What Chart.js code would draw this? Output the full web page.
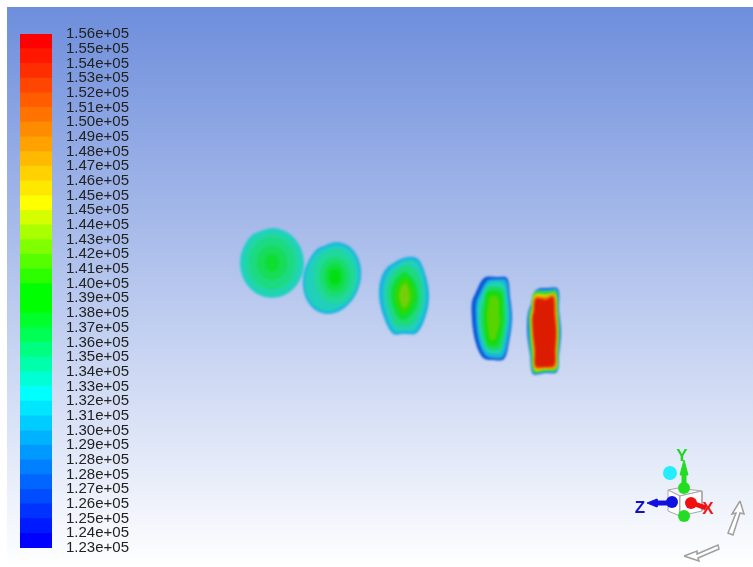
<!DOCTYPE html>
<html>
<head>
<meta charset="utf-8">
<style>
  html, body { margin: 0; padding: 0; background: #fff; }
  #stage { position: relative; width: 753px; height: 567px; overflow: hidden; filter: blur(0.6px); }
  #view, #planes { position: absolute; left: 0; top: 0; }
  #planes { filter: blur(0.8px); }
  #legend { position: absolute; left: 20px; top: 11px; }
</style>
<script src="https://cdn.jsdelivr.net/npm/chart.js@4/dist/chart.umd.js"></script>
</head>
<body>
<div id="stage">
  <canvas id="view" width="753" height="567"></canvas>
  <canvas id="planes" width="753" height="567"></canvas>
  <canvas id="legend" width="122" height="560"></canvas>
</div>
<script>
// colour bar labels, top to bottom
const levelLabels = ['1.56e+05', '1.55e+05', '1.54e+05', '1.53e+05', '1.52e+05', '1.51e+05', '1.50e+05', '1.49e+05', '1.48e+05',
  '1.47e+05', '1.46e+05', '1.45e+05', '1.45e+05', '1.44e+05', '1.43e+05', '1.42e+05', '1.41e+05', '1.40e+05', '1.39e+05',
  '1.38e+05', '1.37e+05', '1.36e+05', '1.35e+05', '1.34e+05', '1.33e+05', '1.32e+05', '1.31e+05', '1.30e+05', '1.29e+05',
  '1.28e+05', '1.28e+05', '1.27e+05', '1.26e+05', '1.25e+05', '1.24e+05', '1.23e+05'];

// colour bar cells, top to bottom
const cellColors = ['#ff0000', '#ff1700', '#ff2e00', '#ff4600', '#ff5d00', '#ff7400', '#ff8b00', '#ffa200', '#ffb900', '#ffd100',
  '#ffe800', '#ffff00', '#d5ff00', '#aaff00', '#80ff00', '#55ff00', '#2bff00', '#00ff00', '#00ff00', '#00ff2b', '#00ff55',
  '#00ff80', '#00ffaa', '#00ffd5', '#00ffff', '#00e6ff', '#00cdff', '#00b3ff', '#009aff', '#0080ff', '#0066ff', '#004dff',
  '#0033ff', '#001aff', '#0000ff'];

// contour outlines of each plane, outermost first
const disc1 = [
  [[272,228],[288,232.7],[299.7,245.5],[304,263],[299.7,280.5],[288,293.3],[272,298],[256,293.3],[244.3,280.5],[240,263],[244.3,245.5],[256,232.7]],
  [[272,231],[286.5,235.3],[297.1,247],[301,263],[297.1,279],[286.5,290.7],[272,295],[257.5,290.7],[246.9,279],[243,263],[246.9,247],[257.5,235.3]],
  [[272,237],[283.5,240.5],[291.9,250],[295,263],[291.9,276],[283.5,285.5],[272,289],[260.5,285.5],[252.1,276],[249,263],[252.1,250],[260.5,240.5]],
  [[272,246],[279.5,248.3],[285,254.5],[287,263],[285,271.5],[279.5,277.7],[272,280],[264.5,277.7],[259,271.5],[257,263],[259,254.5],[264.5,248.3]],
  [[272,254],[276,256],[278,259],[279,263],[278,267],[276,270],[272,272],[268,270],[266,267],[265,263],[266,259],[268,256]]
];
const disc2 = [
  [[336,242],[350,246.8],[359.1,260],[361,278],[355.1,296],[343,309.2],[328,314],[314,309.2],[304.9,296],[303,278],[308.9,260],[321,246.8]],
  [[335.6,245.2],[348.4,249.5],[356.7,261.6],[358.4,278],[353.4,294.4],[342,306],[328.4,311],[315.6,306.5],[306.8,294.4],[305.6,278],[310.6,261.6],[323,249.5]],
  [[335,250],[345.5,253.6],[353.2,263.5],[356,277],[353.2,290.5],[345.5,300.4],[335,304],[324.5,300.4],[316.8,290.5],[314,277],[316.8,263.5],[324.5,253.6]],
  [[335,257],[342.5,259.7],[348,267],[350,277],[348,287],[342.5,294.3],[335,297],[327.5,294.3],[322,287],[320,277],[322,267],[327.5,259.7]],
  [[335,263],[340,264.9],[343.7,270],[345,277],[343.7,284],[340,289.1],[335,291],[330,289.1],[326.3,284],[325,277],[326.3,270],[330,264.9]],
  [[335,269],[338,270.1],[340.2,273],[341,277],[340.2,281],[338,283.9],[335,285],[332,283.9],[329.8,281],[329,277],[329.8,273],[332,270.1]]
];
const disc3 = [
  [[403,258],[417,258],[424,270],[429,292],[427,312],[417,333],[403,334],[393,334],[384,318],[379,297],[381,278],[390,265]],
  [[404,261],[415,261],[422,272],[426,292],[424,311],[415,330],[403,331],[395,331],[387,316],[383,297],[385,280],[393,267]],
  [[404,266],[412,267],[419,278],[422,294],[420,309],[412,324],[403,326],[397,325],[391,313],[387,297],[389,282],[396,271]],
  [[404,272],[409,275],[415,283],[418,295],[416,307],[409,317],[403,320],[398,317],[394,308],[391,296],[393,285],[399,276]],
  [[405,277],[409,280],[413,287],[414,296],[412,305],[407,312],[403,314],[400,311],[396,304],[395,296],[396,288],[401,281]],
  [[405,283],[407,285],[409,290],[410,296],[409,302],[406,307],[404,308],[402,306],[400,301],[399,296],[400,290],[402,286]]
];
const disc4 = [
  [[484,278],[497,277],[507,278],[510,297],[512,318],[509,342],[504,359],[492,360],[483,358],[476,344],[472,320],[474,296]],
  [[487,281],[497,279],[506,280],[509,298],[511,318],[508,341],[503,357],[492,358],[485,355],[479,342],[476,320],[478,297]],
  [[488,284],[497,282],[504,284],[507,300],[508,318],[505,339],[501,353],[492,354],[486,351],[481,339],[478,320],[480,299]],
  [[488,288],[497,287],[503,289],[505,303],[506,318],[504,336],[500,349],[491,350],[487,347],[483,336],[481,320],[483,302]],
  [[487,292],[496,291],[501,293],[503,306],[503,319],[501,333],[497,345],[490,346],[487,343],[485,333],[484,320],[485,305]],
  [[490,297],[496,296],[499,300],[499,311],[500,320],[498,330],[495,339],[491,340],[489,336],[488,328],[487,319],[488,308]]
];
const disc5 = [
  [[536,290],[548,288],[558,289],[559,310],[561,332],[559,355],[557,372],[545,373],[533,374],[530,355],[527,330],[530,307]],
  [[535,291.5],[548,290],[557,290],[558.5,311],[560,332],[558.5,354],[557,371],[545,372],[533.5,373],[530.5,354],[528.5,330],[530.5,308]],
  [[534,293],[547,292],[556,292],[558,312],[559,332],[558,353],[556.5,369.5],[545,371],[534,372],[531.5,353],[530,330],[531,309]],
  [[534.5,295],[547,294.5],[555,293.5],[557,313],[558,332],[557,352],[556,368],[545,369.5],[534.5,370],[533,352],[531,330],[532,310]],
  [[535,297],[546,297],[554,295],[556,314],[557,332],[556,351],[555,367],[545,368],[535,368],[534,351],[532,330],[533,311]],
  [[536,299],[546,300],[553,297],[554.5,315],[556,332],[555,350],[554,365],[545,367],[536,366],[535,350],[533,330],[534,312]]
];
const disc1Colors = ['#22cfc8', '#20d6a8', '#1cda80', '#16dc58', '#0ede30'];
const disc2Colors = ['#1fb8dc', '#20d0bc', '#20d89a', '#1adc6c', '#10de40', '#02de14'];
const disc3Colors = ['#1cb4e0', '#20d0b8', '#1eda78', '#10dc34', '#30d800', '#74cf08'];
const disc4Colors = ['#0a58d8', '#1ab0e0', '#20d4b0', '#18da60', '#18da10', '#58d400'];
const disc5Colors = ['#1560dc', '#20c8c8', '#38d818', '#e0d800', '#f07000', '#dc1c00'];

// orientation triad
const cubeLeft = [[668,490],[680,496],[680,516],[668,511],[668,490]];
const cubeRight = [[680,496],[702,491],[702,511],[680,516],[680,496]];
const cubeTop = [[668,490],[678,488],[702,491],[680,496],[668,490]];
const yShaft = [[684,490],[684,468]];
const yHead = [[684,460],[688,475],[680,475],[684,460]];
const zShaft = [[671,503],[655,503]];
const zHead = [[647,503],[657,499],[657,507],[647,503]];
const xShaft = [[692,503],[706,508]];
const greenBeads = [[684,488],[684,516]];
const blueBead = [[672,502]];
const redBead = [[691,503]];
const cyanBead = [[670,473]];
const arrowUp = [[740,501],[744,514],[740,513],[733,535],[728,533],[736,513],[732,514],[740,501]];
const arrowDown = [[684,556],[697,551],[697,554],[718,545],[719,549],[698,558],[699,561],[684,556]];
const triadLetters = ['Y', 'Z', 'X'];
const letterSpots = [[682,456], [640,508], [708,509]];
const letterColors = ['#22d422', '#1010d0', '#f01818'];

// Fluent window background
const viewBackground = {
  id: 'viewBackground',
  beforeDraw(chart) {
    const { ctx, scales } = chart;
    const top = scales.y.getPixelForValue(7);
    const bottom = scales.y.getPixelForValue(567);
    const left = scales.x.getPixelForValue(7);
    const right = scales.x.getPixelForValue(753);
    const grad = ctx.createLinearGradient(0, top, 0, bottom);
    grad.addColorStop(0, '#6e8edc');
    grad.addColorStop(1, '#ffffff');
    ctx.fillStyle = grad;
    ctx.fillRect(left, top, right - left, bottom - top);
  }
};

const triadText = {
  id: 'triadText',
  afterDatasetsDraw(chart) {
    const { ctx, scales } = chart;
    ctx.save();
    ctx.font = 'bold 17px "Liberation Sans"';
    ctx.textAlign = 'center';
    ctx.textBaseline = 'middle';
    triadLetters.forEach((letter, i) => {
      ctx.fillStyle = letterColors[i];
      ctx.fillText(letter, scales.x.getPixelForValue(letterSpots[i][0]), scales.y.getPixelForValue(letterSpots[i][1]));
    });
    ctx.restore();
  }
};

function shapeDataset(points, fillColor, lineColor, lineWidth, tension) {
  return {
    data: points.concat([points[0]]),
    showLine: true,
    fill: 'shape',
    backgroundColor: fillColor,
    borderColor: lineColor,
    borderWidth: lineWidth,
    tension,
    pointRadius: 0
  };
}

function lineDataset(points, color, width) {
  return { data: points, showLine: true, fill: false, borderColor: color, borderWidth: width, pointRadius: 0 };
}

function beadDataset(points, color, radius) {
  return { data: points, showLine: false, backgroundColor: color, borderColor: color, pointRadius: radius, pointBorderWidth: 0 };
}

// repeat the ends so the spline stays smooth where the outline closes
function discDatasets(bands, colors) {
  return bands.map((band, i) => {
    const wrapped = [band[band.length - 1], ...band, band[1]];
    const set = shapeDataset(wrapped, colors[i], colors[i], 0, 0.33);
    return set;
  });
}

const planeSets = [
  ...discDatasets(disc1, disc1Colors),
  ...discDatasets(disc2, disc2Colors),
  ...discDatasets(disc3, disc3Colors),
  ...discDatasets(disc4, disc4Colors),
  ...discDatasets(disc5, disc5Colors)
];

const triadSets = [
  shapeDataset(cubeTop, '#f4f4f4', '#a8a8a8', 1, 0),
  shapeDataset(cubeLeft, '#ffffff', '#a8a8a8', 1, 0),
  shapeDataset(cubeRight, '#ffffff', '#a8a8a8', 1, 0),
  beadDataset(greenBeads, '#22dd22', 6),
  lineDataset(yShaft, '#22dd22', 5),
  shapeDataset(yHead, '#22dd22', '#22dd22', 1, 0),
  lineDataset(zShaft, '#1010e0', 5),
  shapeDataset(zHead, '#1010e0', '#1010e0', 1, 0),
  beadDataset(blueBead, '#1010e0', 6),
  lineDataset(xShaft, '#f01010', 5),
  beadDataset(redBead, '#f01010', 6),
  beadDataset(cyanBead, '#22eeff', 7),
  shapeDataset(arrowUp, '#ffffff', '#a0a0a0', 1.5, 0),
  shapeDataset(arrowDown, '#ffffff', '#a0a0a0', 1.5, 0)
];

function pictureChart(id, datasets, plugins) {
  // later shapes go on top
  datasets.forEach((d, i) => { d.order = -i; });
  return new Chart(document.getElementById(id), {
    type: 'scatter',
    data: { datasets },
    options: {
      responsive: false,
      animation: false,
      layout: { padding: 0, autoPadding: false },
      plugins: { legend: { display: false }, tooltip: { enabled: false } },
      scales: {
        x: { type: 'linear', display: false, min: 0, max: 753 },
        y: { type: 'linear', display: false, min: 0, max: 567, reverse: true }
      }
    },
    plugins
  });
}

pictureChart('view', triadSets, [viewBackground, triadText]);
pictureChart('planes', planeSets, []);

// colour bar: one stacked bar per cell, bottom cell first
const cellDatasets = cellColors.slice().reverse().map(color => ({
  data: [1],
  backgroundColor: color,
  barPercentage: 1,
  categoryPercentage: 1
}));

new Chart(document.getElementById('legend'), {
  type: 'bar',
  data: { labels: ['contour'], datasets: cellDatasets },
  options: {
    responsive: false,
    animation: false,
    layout: { padding: { top: 10, bottom: 10 }, autoPadding: false },
    plugins: { legend: { display: false }, tooltip: { enabled: false } },
    scales: {
      x: { stacked: true, display: false },
      y: {
        stacked: true,
        position: 'right',
        min: 0,
        max: cellColors.length,
        afterFit(scale) { scale.width = 90; },
        grid: { display: false, drawTicks: false },
        border: { display: false },
        ticks: {
          stepSize: 1,
          autoSkip: false,
          padding: 14,
          color: '#222222',
          font: { family: '"Liberation Sans"', size: 15 },
          callback: value => levelLabels[cellColors.length - value]
        }
      }
    }
  }
});
</script>
</body>
</html>
